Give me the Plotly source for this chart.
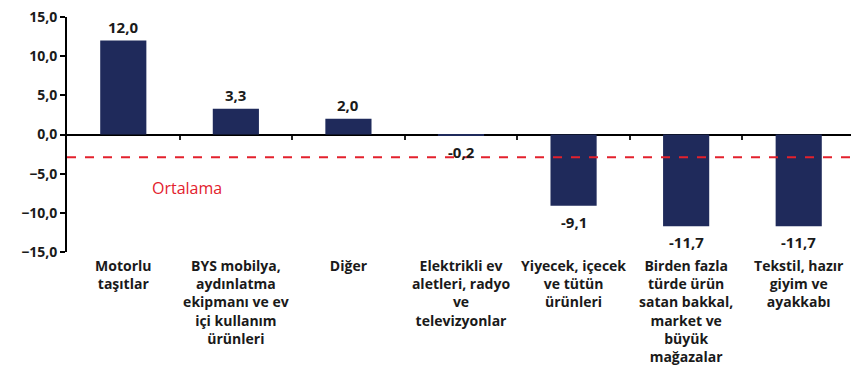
import plotly.graph_objects as go

categories = [
    "Motorlu<br>taşıtlar",
    "BYS mobilya,<br>aydınlatma<br>ekipmanı ve ev<br>içi kullanım<br>ürünleri",
    "Diğer",
    "Elektrikli ev<br>aletleri, radyo<br>ve<br>televizyonlar",
    "Yiyecek, içecek<br>ve tütün<br>ürünleri",
    "Birden fazla<br>türde ürün<br>satan bakkal,<br>market ve<br>büyük<br>mağazalar",
    "Tekstil, hazır<br>giyim ve<br>ayakkabı",
]
values = [12.0, 3.3, 2.0, -0.2, -9.1, -11.7, -11.7]
average = -2.9
average_label = "Ortalama"

NAVY = "#1F2A5B"
RED = "#E3212D"
TEXT = "#1A1A1A"
FONT = "Open Sans"

fig = go.Figure()
fig.add_trace(go.Bar(
    x=categories, y=values, marker=dict(color=NAVY, line=dict(width=0)),
    width=0.41, showlegend=False, hoverinfo="skip",
))

# value labels just outside the bar ends
for cat, v in zip(categories, values):
    fig.add_annotation(x=cat, y=v, text=f"{v:.1f}".replace(".", ","),
                       showarrow=False, yshift=14 if v >= 0 else -16,
                       font=dict(family=FONT, size=15, color=TEXT, weight="bold"))

# average line
fig.add_shape(type="line", xref="paper", x0=0, x1=1, yref="y", y0=average, y1=average,
              line=dict(color=RED, width=2, dash="dash"))
fig.add_annotation(xref="paper", x=0.152, xanchor="center", yref="y", y=-6.8,
                   text=average_label, showarrow=False,
                   font=dict(family=FONT, size=16, color=RED))

# category separator ticks on the zero line (invisible carrier trace on x2)
n = len(categories)
boundaries = [i + 0.5 for i in range(n - 1)]
fig.add_trace(go.Scatter(x=boundaries, y=[0] * len(boundaries), xaxis="x2",
                         mode="markers", marker=dict(opacity=0), hoverinfo="skip",
                         showlegend=False))

fig.update_layout(
    width=851, height=374,
    paper_bgcolor="white", plot_bgcolor="white",
    separators=",.",
    margin=dict(l=59, r=4, t=9, b=130),
    font=dict(family=FONT, color=TEXT, size=11),
    xaxis=dict(showline=False, ticks="", showgrid=False, automargin=False,
               tickfont=dict(family=FONT, size=14, color=TEXT, weight="bold"),
               tickangle=0, ticklabelstandoff=4),
    xaxis2=dict(overlaying="x", anchor="free", position=0.5, range=[-0.5, n - 0.5],
                tickvals=boundaries, showticklabels=False, ticks="outside",
                ticklen=4, tickwidth=2, tickcolor="#222", showline=False,
                showgrid=False, zeroline=False, automargin=False, fixedrange=True),
    yaxis=dict(range=[-15, 15], dtick=5, tickformat=".1f", showgrid=False,
               automargin=False, ticklabeloverflow="allow",
               showline=True, linecolor="black", linewidth=2,
               ticks="outside", ticklen=5, tickwidth=2, tickcolor="black",
               zeroline=True, zerolinecolor="black", zerolinewidth=2,
               tickfont=dict(family=FONT, size=14, color=TEXT, weight="bold")),
)

fig.write_html("out.html")
